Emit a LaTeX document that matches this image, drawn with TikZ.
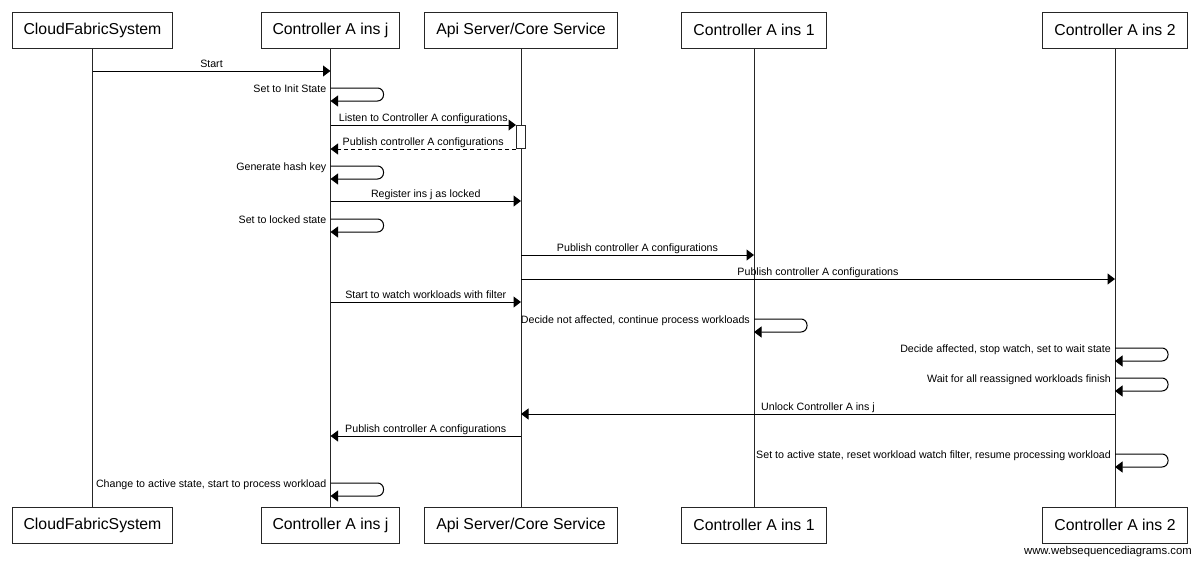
\documentclass[tikz,border=0pt]{standalone}
\usepackage{fontspec}
\setmainfont{Liberation Sans}
\usetikzlibrary{arrows.meta,calc}
\begin{document}
\begin{tikzpicture}[x=1pt,y=-1pt,
  part/.style={draw=black!85, line width=1pt, fill=white, minimum height=36pt, inner xsep=11.5pt, inner ysep=0pt, font=\fontsize{15.8}{18}\selectfont},
  life/.style={draw=black!85, line width=1pt},
  msgarrow/.style={draw=black, line width=1pt, -{Triangle[length=7.5pt,width=11pt]}},
  retarrow/.style={msgarrow, dash pattern=on 4pt off 3pt},
  selfloop/.style={msgarrow, rounded corners=6pt},
  lbl/.style={font=\fontsize{10.65}{12}\selectfont, inner sep=0pt, anchor=base, yshift=4pt},
  slbl/.style={font=\fontsize{10.65}{12}\selectfont, inner sep=0pt, anchor=base east},
  actbox/.style={draw=black!85, line width=1pt, fill=white, minimum width=9pt, inner sep=0pt, anchor=north}
]
\fill[white] (0,0) rectangle (1200,562);
\useasboundingbox (0,0) rectangle (1200,562);

% participants (top)
\node[part] (cfs) at (92.5,30) {CloudFabricSystem};
\node[part] (cj)  at (330.5,30) {Controller A ins j};
\node[part] (api) at (521,30) {Api Server/Core Service};
\node[part] (c1)  at (754,30) {Controller A ins 1};
\node[part] (c2)  at (1115,30) {Controller A ins 2};
% participants (bottom)
\node[part] (cfsB) at (92.5,525) {CloudFabricSystem};
\node[part] (cjB)  at (330.5,525) {Controller A ins j};
\node[part] (apiB) at (521,525) {Api Server/Core Service};
\node[part] (c1B)  at (754,525) {Controller A ins 1};
\node[part] (c2B)  at (1115,525) {Controller A ins 2};

% lifelines
\draw[life] (cfs.south) -- (cfsB.north);
\draw[life] (cj.south) -- (cjB.north);
\draw[life] (api.south) -- (apiB.north);
\draw[life] (c1.south) -- (c1B.north);
\draw[life] (c2.south) -- (c2B.north);

% row coordinates
\coordinate (y1) at (0,71);
\coordinate (y2) at (0,88);
\coordinate (y3) at (0,125);
\coordinate (y5) at (0,166);
\coordinate (y6) at (0,201);
\coordinate (y7) at (0,219);
\coordinate (y8) at (0,255);
\coordinate (y9) at (0,279);
\coordinate (y10) at (0,302);
\coordinate (y11) at (0,319);
\coordinate (y12) at (0,348);
\coordinate (y13) at (0,378);
\coordinate (y14) at (0,414);
\coordinate (y15) at (0,436);
\coordinate (y16) at (0,454);
\coordinate (y17) at (0,483);

% activation box
\node[actbox, minimum height=23pt] (act) at (api |- y3) {};

% messages
\draw[msgarrow] (cfs |- y1) -- node[lbl] (t1) {Start} (cj |- y1);

\draw[selfloop] (cj |- y2) -- ++(53,0) -- ++(0,13) -- ++(-53,0);
\node[slbl] (t2) at ([xshift=-4pt,yshift=-4pt]cj |- y2) {Set to Init State};

\draw[msgarrow] (cj |- y3) -- node[lbl] (t3) {Listen to Controller A configurations} (act.north west);
\draw[retarrow] (act.south west) -- node[lbl] (t4) {Publish controller A configurations} (cj |- act.south);

\draw[selfloop] (cj |- y5) -- ++(53,0) -- ++(0,13) -- ++(-53,0);
\node[slbl] (t5) at ([xshift=-4pt,yshift=-4pt]cj |- y5) {Generate hash key};

\draw[msgarrow] (cj |- y6) -- node[lbl] (t6) {Register ins j as locked} (api |- y6);

\draw[selfloop] (cj |- y7) -- ++(53,0) -- ++(0,13) -- ++(-53,0);
\node[slbl] (t7) at ([xshift=-4pt,yshift=-4pt]cj |- y7) {Set to locked state};

\draw[msgarrow] (api |- y8) -- node[lbl] (t8) {Publish controller A configurations} (c1 |- y8);
\draw[msgarrow] (api |- y9) -- node[lbl] (t9) {Publish controller A configurations} (c2 |- y9);

\draw[msgarrow] (cj |- y10) -- node[lbl] (t10) {Start to watch workloads with filter} (api |- y10);

\draw[selfloop] (c1 |- y11) -- ++(53,0) -- ++(0,13) -- ++(-53,0);
\node[slbl] (t11) at ([xshift=-4pt,yshift=-4pt]c1 |- y11) {Decide not affected, continue process workloads};

\draw[selfloop] (c2 |- y12) -- ++(53,0) -- ++(0,13) -- ++(-53,0);
\node[slbl] (t12) at ([xshift=-4pt,yshift=-4pt]c2 |- y12) {Decide affected, stop watch, set to wait state};

\draw[selfloop] (c2 |- y13) -- ++(53,0) -- ++(0,13) -- ++(-53,0);
\node[slbl] (t13) at ([xshift=-4pt,yshift=-4pt]c2 |- y13) {Wait for all reassigned workloads finish};

\draw[msgarrow] (c2 |- y14) -- node[lbl] (t14) {Unlock Controller A ins j} (api |- y14);
\draw[msgarrow] (api |- y15) -- node[lbl] (t15) {Publish controller A configurations} (cj |- y15);

\draw[selfloop] (c2 |- y16) -- ++(53,0) -- ++(0,13) -- ++(-53,0);
\node[slbl] (t16) at ([xshift=-4pt,yshift=-4pt]c2 |- y16) {Set to active state, reset workload watch filter, resume processing workload};

\draw[selfloop] (cj |- y17) -- ++(53,0) -- ++(0,13) -- ++(-53,0);
\node[slbl] (t17) at ([xshift=-4pt,yshift=-4pt]cj |- y17) {Change to active state, start to process workload};

% watermark
\node[font=\fontsize{11.3}{13}\selectfont, anchor=base east, inner sep=0pt] (wm) at (1192,554) {www.websequencediagrams.com};
\end{tikzpicture}
\end{document}
